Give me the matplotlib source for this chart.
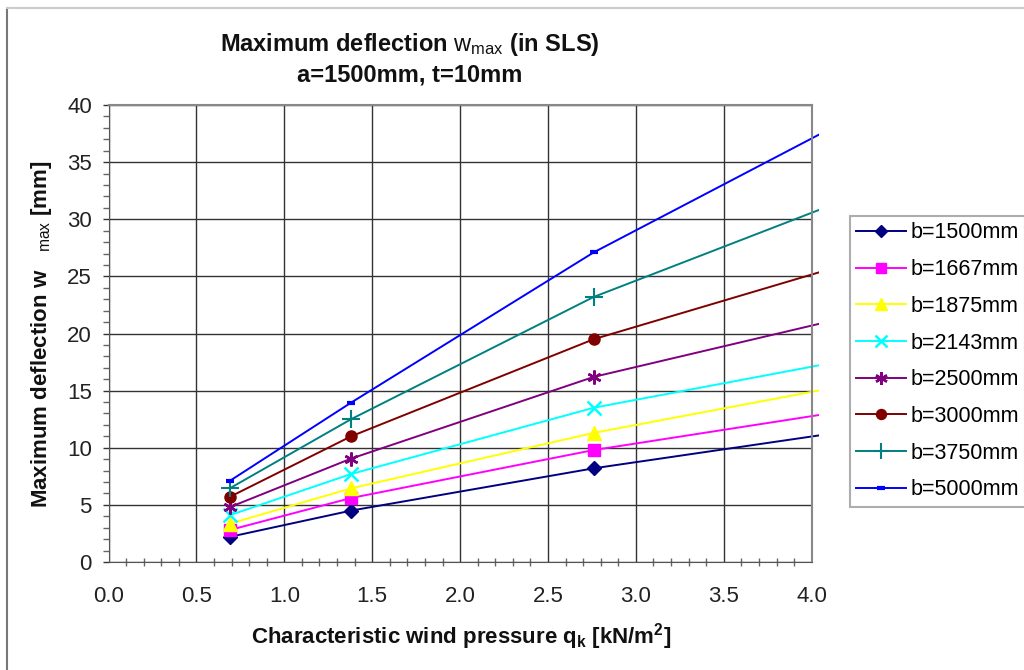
import matplotlib
matplotlib.use("Agg")
import matplotlib.pyplot as plt
from matplotlib.lines import Line2D
from matplotlib.transforms import Bbox, TransformedBbox
from matplotlib.ticker import MultipleLocator

plt.rcParams['font.family'] = ['Liberation Sans', 'DejaVu Sans']
plt.rcParams['mathtext.fontset'] = 'custom'
plt.rcParams['mathtext.rm'] = 'Liberation Sans'
plt.rcParams['mathtext.bf'] = 'Liberation Sans:bold'
plt.rcParams['mathtext.it'] = 'Liberation Sans:italic'

# wind pressure q_k [kN/m2]
q = [0.69, 1.38, 2.76, 4.14]

labels = ["b=1500mm", "b=1667mm", "b=1875mm", "b=2143mm",
          "b=2500mm", "b=3000mm", "b=3750mm", "b=5000mm"]
w_1500 = [2.2, 4.5, 8.2, 11.3]
w_1667 = [2.8, 5.6, 9.8, 13.1]
w_1875 = [3.35, 6.45, 11.3, 15.3]
w_2143 = [4.1, 7.7, 13.5, 17.5]
w_2500 = [4.8, 9.05, 16.2, 21.2]
w_3000 = [5.7, 11.0, 19.5, 25.8]
w_3750 = [6.45, 12.5, 23.2, 31.4]
w_5000 = [7.1, 13.95, 27.1, 38.2]
series = [w_1500, w_1667, w_1875, w_2143, w_2500, w_3000, w_3750, w_5000]

colors = ["#000080", "#ff00ff", "#ffff00", "#00ffff",
          "#800080", "#800000", "#008080", "#0000ff"]
markers = ["D", "s", "^", "x", (6, 2, 0), "o", "+", "_"]
msizes = [7, 8, 10, 10, 10, 8, 13, 6]
mews = [1, 1, 1, 1.8, 1.8, 1, 1.5, 3]

fig = plt.figure(figsize=(10.24, 6.7), dpi=100)
ax = fig.add_axes([108.5 / 1024, 1 - 562 / 670, (811.7 - 108.5) / 1024, (562 - 105) / 670])

ax.set_xlim(0, 4.0)
ax.set_ylim(0, 40)
ax.xaxis.set_major_locator(MultipleLocator(0.5))
ax.xaxis.set_minor_locator(MultipleLocator(0.1))
ax.yaxis.set_major_locator(MultipleLocator(5))
ax.yaxis.set_minor_locator(MultipleLocator(1))
ax.xaxis.set_major_formatter(matplotlib.ticker.FormatStrFormatter('%.1f'))
ax.grid(True, which='major', color='#333333', lw=1.0)
ax.set_axisbelow(True)
for gl in ax.get_ygridlines():
    if abs(gl.get_ydata()[0] - 5) < 1e-6:
        gl.set_color('#c0c0c0')

ax.tick_params(which='major', labelsize=16, labelcolor='#222222', color='#333333', width=1)
ax.tick_params(axis='y', which='major', length=4.5, pad=7.5)
ax.tick_params(axis='x', which='major', length=0, pad=17)
ax.tick_params(which='minor', length=4, width=1, color='#666666')
ax.tick_params(axis='x', which='minor', direction='inout', length=6)
for s in ['left', 'bottom']:
    ax.spines[s].set_color('#555555')
for s in ['top', 'right']:
    ax.spines[s].set_color('#888888')
    ax.spines[s].set_linewidth(1.5)

clip = TransformedBbox(Bbox([[-0.01, -0.01], [1.01, 1.01]]), ax.transAxes)
handles = []
for ys, lab, c, m, ms, mew in zip(series, labels, colors, markers, msizes, mews):
    line, = ax.plot(q, ys, color=c, lw=1.4, marker=m, ms=ms, mew=mew,
                    mec=c, mfc=c, label=lab)
    line.set_clip_box(clip)
    handles.append(Line2D([], [], color=c, lw=1.4, marker=m, ms=ms * 0.9,
                          mew=mew, mec=c, mfc=c))

fig.text(410 / 1024, 1 - 45 / 670,
         r"Maximum deflection $\mathrm{w}_{\mathrm{max}}$ (in SLS)",
         ha='center', va='center', fontsize=17, fontweight='bold', color='#111111')
fig.text(410 / 1024, 1 - 75 / 670, "a=1500mm, t=10mm",
         ha='center', va='center', fontsize=17, fontweight='bold', color='#111111')

fig.text(461 / 1024, 1 - 637 / 670,
         r"Characteristic wind pressure $\mathbf{q}_\mathbf{k}$ [kN/m$^\mathbf{2}$]",
         ha='center', va='center', fontsize=16, fontweight='bold', color='#111111')
fig.text(42 / 1024, 1 - 334 / 670,
         r"Maximum deflection w$\ \ \ {}_{\mathrm{max}}$ [mm]",
         ha='center', va='center', rotation=90, fontsize=16, fontweight='bold',
         color='#111111')

leg = fig.legend(handles, labels, loc='upper left',
                 bbox_to_anchor=(850 / 1024, 1 - 216 / 670),
                 fontsize=15.5, frameon=True, fancybox=False, borderaxespad=0,
                 handlelength=2.3, handletextpad=0.2, labelspacing=0.73,
                 borderpad=0.3)
leg.get_frame().set_edgecolor('#999999')
leg.get_frame().set_linewidth(1.5)

# outer chart border
fig.add_artist(Line2D([7 / 1024, 7 / 1024], [0, 1 - 8 / 670], color='#777777', lw=1.5,
                      transform=fig.transFigure))
fig.add_artist(Line2D([7 / 1024, 1], [1 - 8 / 670, 1 - 8 / 670], color='#cccccc', lw=1.5,
                      transform=fig.transFigure))

fig.savefig("out.png", dpi=100)
